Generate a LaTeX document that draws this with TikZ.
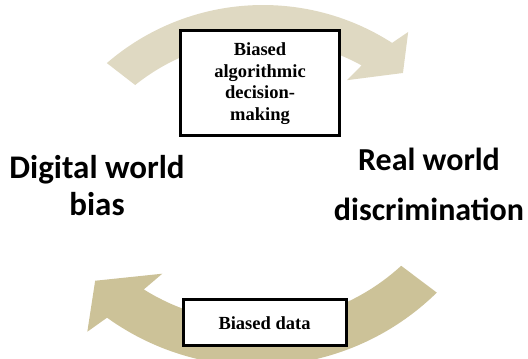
\documentclass[tikz,border=0pt]{standalone}
\usepackage{fontspec}
\setmainfont{Liberation Serif}
\newfontfamily\labelfont{Carlito}
\definecolor{toparrow}{RGB}{223,217,194}
\definecolor{botarrow}{RGB}{204,194,152}
\tikzset{
	stepbox/.style={draw=black, line width=3pt, fill=white, align=center, inner sep=0pt,
		font=\fontsize{18.5}{21.5}\selectfont\bfseries},
	worldlabel/.style={align=center, font=\labelfont\bfseries\fontsize{33}{37}\selectfont}
}
\begin{document}
\begin{tikzpicture}[x=1pt, y=1pt]
		\useasboundingbox (0,0) rectangle (528,359);
		\clip (0,0) rectangle (528,359);
		
		%upper arrow
		\begin{scope}[shift={(263,115)}]
			\fill[toparrow] (130.8:239) arc[start angle=130.8, end angle=57.3, radius=239]
				-- (55.6:257) -- (50.7:221) -- (62.9:184) -- (61.1:204)
				arc[start angle=61.1, end angle=128.8, radius=204] -- cycle;
		\end{scope}
		
		%lower arrow
		\begin{scope}[shift={(257,250)}]
			\fill[botarrow] (-45.6:257) arc[start angle=-45.6, end angle=-125.7, radius=257]
				-- (-127.3:280) -- (-133.3:236) -- (-119.9:190) -- (-122.1:213)
				arc[start angle=-122.1, end angle=-47.4, radius=213] -- cycle;
		\end{scope}
		
		%boxes
		\node[stepbox, minimum width=159, minimum height=105] (algo) at (260,275.5) {Biased\\algorithmic\\decision-\\making};
		\node[stepbox, minimum width=163, minimum height=46] (data) at (264.5,36) {Biased data};
		
		%labels
		\node[worldlabel] (digital) at (97,173) {Digital world\\bias};
		\node[worldlabel, font=\labelfont\bfseries\fontsize{32}{50}\selectfont] (real) at (429,175) {Real world\\discrimination};
\end{tikzpicture}
\end{document}
